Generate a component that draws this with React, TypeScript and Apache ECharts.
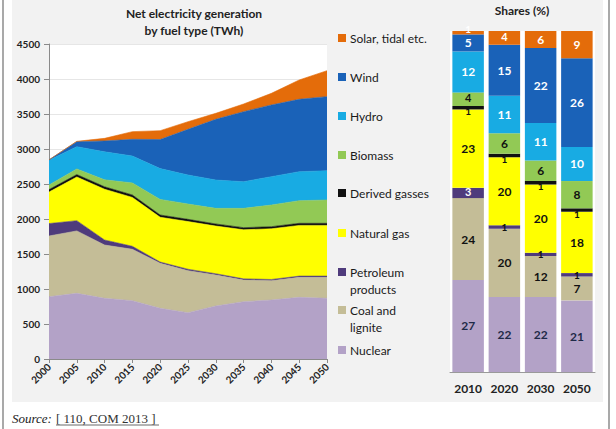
import React, { useEffect, useRef } from "react";
import * as echarts from "echarts";

// Net electricity generation by fuel type (TWh), 2000-2050
const years = ["2000", "2005", "2010", "2015", "2020", "2025", "2030", "2035", "2040", "2045", "2050"];
const nuclear = [890, 938, 867, 833, 724, 662, 757, 819, 843, 881, 867];
const coal = [867, 892, 761, 734, 643, 600, 443, 309, 276, 286, 300];
const petroleum = [178, 146, 72, 43, 18, 20, 18, 17, 17, 17, 17];
const naturalGas = [450, 624, 725, 698, 640, 681, 681, 701, 724, 724, 724];
const derivedGasses = [35, 35, 35, 35, 32, 32, 30, 30, 30, 30, 30];
const biomass = [66, 80, 100, 172, 223, 219, 223, 276, 310, 324, 333];
const hydro = [354, 318, 400, 385, 440, 415, 405, 381, 405, 414, 419];
const wind = [5, 72, 155, 238, 415, 652, 867, 1000, 1024, 1034, 1058];
const solar = [0, 5, 37, 110, 127, 109, 86, 110, 166, 276, 371];

// Shares (%) of generation in selected years
const shareYears = ["2010", "2020", "2030", "2050"];
const shareNuclear = [27, 22, 22, 21];
const shareCoal = [24, 20, 12, 7];
const sharePetroleum = [3, 1, 1, 1];
const shareGas = [23, 20, 20, 18];
const shareDerived = [1, 1, 1, 1];
const shareBiomass = [4, 6, 6, 8];
const shareHydro = [12, 11, 11, 10];
const shareWind = [5, 15, 22, 26];
const shareSolar = [1, 4, 6, 9];

const yTicks = [0, 4500, 500];

type Fuel = {
  name: string;
  legend: string;
  color: string;
  labelColor: string;
  gen: number[];
  share: number[];
};

// bottom-to-top stacking order
const fuels: Fuel[] = [
  { name: "Nuclear", legend: "Nuclear", color: "#b3a2c7", labelColor: "#1f2a48", gen: nuclear, share: shareNuclear },
  { name: "Coal and lignite", legend: "Coal and\nlignite", color: "#c4bd97", labelColor: "#111", gen: coal, share: shareCoal },
  { name: "Petroleum products", legend: "Petroleum\nproducts", color: "#4f3b7c", labelColor: "#fff", gen: petroleum, share: sharePetroleum },
  { name: "Natural gas", legend: "Natural gas", color: "#ffff00", labelColor: "#111", gen: naturalGas, share: shareGas },
  { name: "Derived gasses", legend: "Derived gasses", color: "#111111", labelColor: "#111", gen: derivedGasses, share: shareDerived },
  { name: "Biomass", legend: "Biomass", color: "#92c955", labelColor: "#111", gen: biomass, share: shareBiomass },
  { name: "Hydro", legend: "Hydro", color: "#18abe3", labelColor: "#fff", gen: hydro, share: shareHydro },
  { name: "Wind", legend: "Wind", color: "#1a62b8", labelColor: "#fff", gen: wind, share: shareWind },
  { name: "Solar, tidal etc.", legend: "Solar, tidal etc.", color: "#e46c0a", labelColor: "#fff", gen: solar, share: shareSolar },
];

// legend rows, top to bottom: centre of the first text line
const legendRowY = [38, 77, 116, 155, 193, 233, 272, 310, 350];

const FONT = "Lato, 'Open Sans', sans-serif";

export default function App() {
  const ref = useRef<HTMLDivElement>(null);

  useEffect(() => {
    if (!ref.current) return;
    const chart = echarts.init(ref.current, undefined, { renderer: "svg" });

    const areaSeries = fuels.map((f) => ({
      name: f.name,
      type: "line",
      stack: "gen",
      xAxisIndex: 0,
      yAxisIndex: 0,
      data: f.gen,
      showSymbol: false,
      symbol: "none",
      lineStyle: { width: 0.6, color: f.color },
      areaStyle: { color: f.color, opacity: 1 },
      itemStyle: { color: f.color },
    }));

    // thin bands carry smaller labels; the top band's label sits a little higher,
    // the derived-gas label a little lower, so they clear their neighbours
    const smallLabel = (f: Fuel, v: number) => {
      if (v > 1) return { fontSize: 11, offset: [0, -1.5] };
      if (f.name === "Solar, tidal etc.") return { color: "#fff", fontSize: 10, offset: [0, -4] };
      if (f.name === "Derived gasses") return { color: "#111", fontSize: 10, offset: [0, 3.5] };
      return { color: "#111", fontSize: 10 };
    };

    const barSeries = fuels.map((f) => ({
      name: f.name + " share",
      type: "bar",
      stack: "share",
      xAxisIndex: 1,
      yAxisIndex: 1,
      barWidth: 31.5,
      itemStyle: { color: f.color },
      label: {
        show: true,
        position: "inside",
        fontFamily: FONT,
        fontSize: 12,
        fontWeight: "bold",
        color: f.labelColor,
      },
      data: f.share.map((v) => (v <= 4 ? { value: v, label: smallLabel(f, v) } : v)),
    }));

    const legendItems: any[] = [];
    [...fuels].reverse().forEach((f, i) => {
      const y = legendRowY[i];
      legendItems.push({
        type: "rect",
        shape: { x: 338, y: y - 4, width: 8, height: 8 },
        style: { fill: f.color },
        z: 10,
      });
      legendItems.push({
        type: "text",
        x: 350,
        y: y - 8.5,
        style: {
          text: f.legend,
          fill: "#1a1a1a",
          font: `12px ${FONT}`,
          lineHeight: 17,
          verticalAlign: "top",
          align: "left",
        },
        z: 10,
      });
    });

    const option: any = {
      animation: false,
      backgroundColor: "#ffffff",
      textStyle: { fontFamily: FONT },
      grid: [
        { left: 49, top: 44, width: 278, height: 315, show: true, backgroundColor: "#ffffff", borderWidth: 0 },
        { left: 450, top: 31, width: 145, height: 341, show: true, backgroundColor: "#ffffff", borderWidth: 0 },
      ],
      xAxis: [
        {
          gridIndex: 0,
          type: "category",
          data: years,
          boundaryGap: false,
          axisLine: { lineStyle: { color: "#8a8a8a", width: 1 } },
          axisTick: { show: true, length: 4, lineStyle: { color: "#8a8a8a" } },
          axisLabel: { interval: 0, rotate: 45, margin: 6, fontSize: 10, fontWeight: "bold", color: "#222", fontFamily: FONT },
          splitLine: { show: false },
        },
        {
          gridIndex: 1,
          type: "category",
          data: shareYears,
          axisLine: { lineStyle: { color: "#9a9a9a", width: 1 } },
          axisTick: { show: false },
          axisLabel: { margin: 10, fontSize: 12, fontWeight: "bold", color: "#222", fontFamily: FONT },
        },
      ],
      yAxis: [
        {
          gridIndex: 0,
          type: "value",
          min: yTicks[0],
          max: yTicks[1],
          interval: yTicks[2],
          axisLine: { show: true, lineStyle: { color: "#8a8a8a", width: 1 } },
          axisTick: { show: true, length: 5, lineStyle: { color: "#8a8a8a" } },
          axisLabel: {
            margin: 9,
            fontSize: 10,
            fontWeight: "bold",
            color: "#222",
            fontFamily: FONT,
            formatter: (v: number) => String(v),
          },
          splitLine: { show: true, lineStyle: { color: "#e6e6e6", width: 1 } },
        },
        {
          gridIndex: 1,
          type: "value",
          min: 0,
          max: 100,
          show: false,
          splitLine: { show: false },
        },
      ],
      graphic: [
        { type: "rect", shape: { x: 12, y: 0, width: 591, height: 402 }, style: { fill: "#f2f2f2" }, z: -10 },
        { type: "line", shape: { x1: 3, y1: 0, x2: 3, y2: 429 }, style: { stroke: "#8c8c8c", lineWidth: 1.5 }, z: -5 },
        { type: "line", shape: { x1: 609, y1: 0, x2: 609, y2: 429 }, style: { stroke: "#8c8c8c", lineWidth: 1.5 }, z: -5 },
        {
          type: "text",
          x: 194,
          y: 21.5,
          style: {
            text: "Net electricity generation\nby fuel type (TWh)",
            align: "center",
            verticalAlign: "middle",
            lineHeight: 17,
            font: `bold 12px ${FONT}`,
            fill: "#222",
          },
        },
        {
          type: "text",
          x: 522,
          y: 10,
          style: { text: "Shares (%)", align: "center", verticalAlign: "middle", font: `bold 12px ${FONT}`, fill: "#222" },
        },
        ...legendItems,
        {
          type: "text",
          x: 12,
          y: 418,
          style: { text: "Source:", verticalAlign: "middle", font: "italic 13px 'Liberation Serif', serif", fill: "#222" },
        },
        {
          type: "text",
          x: 56,
          y: 418,
          style: { text: "[ 110, COM 2013 ]", verticalAlign: "middle", font: "13px 'Liberation Serif', serif", fill: "#333" },
        },
        { type: "line", shape: { x1: 56, y1: 425, x2: 159, y2: 425 }, style: { stroke: "#444", lineWidth: 0.8 } },
      ],
      series: [...areaSeries, ...barSeries],
    };

    chart.setOption(option);
    return () => chart.dispose();
  }, []);

  return (
    <div
      ref={ref}
      style={{ position: "absolute", left: 0, top: 0, width: 616, height: 429 }}
    />
  );
}
